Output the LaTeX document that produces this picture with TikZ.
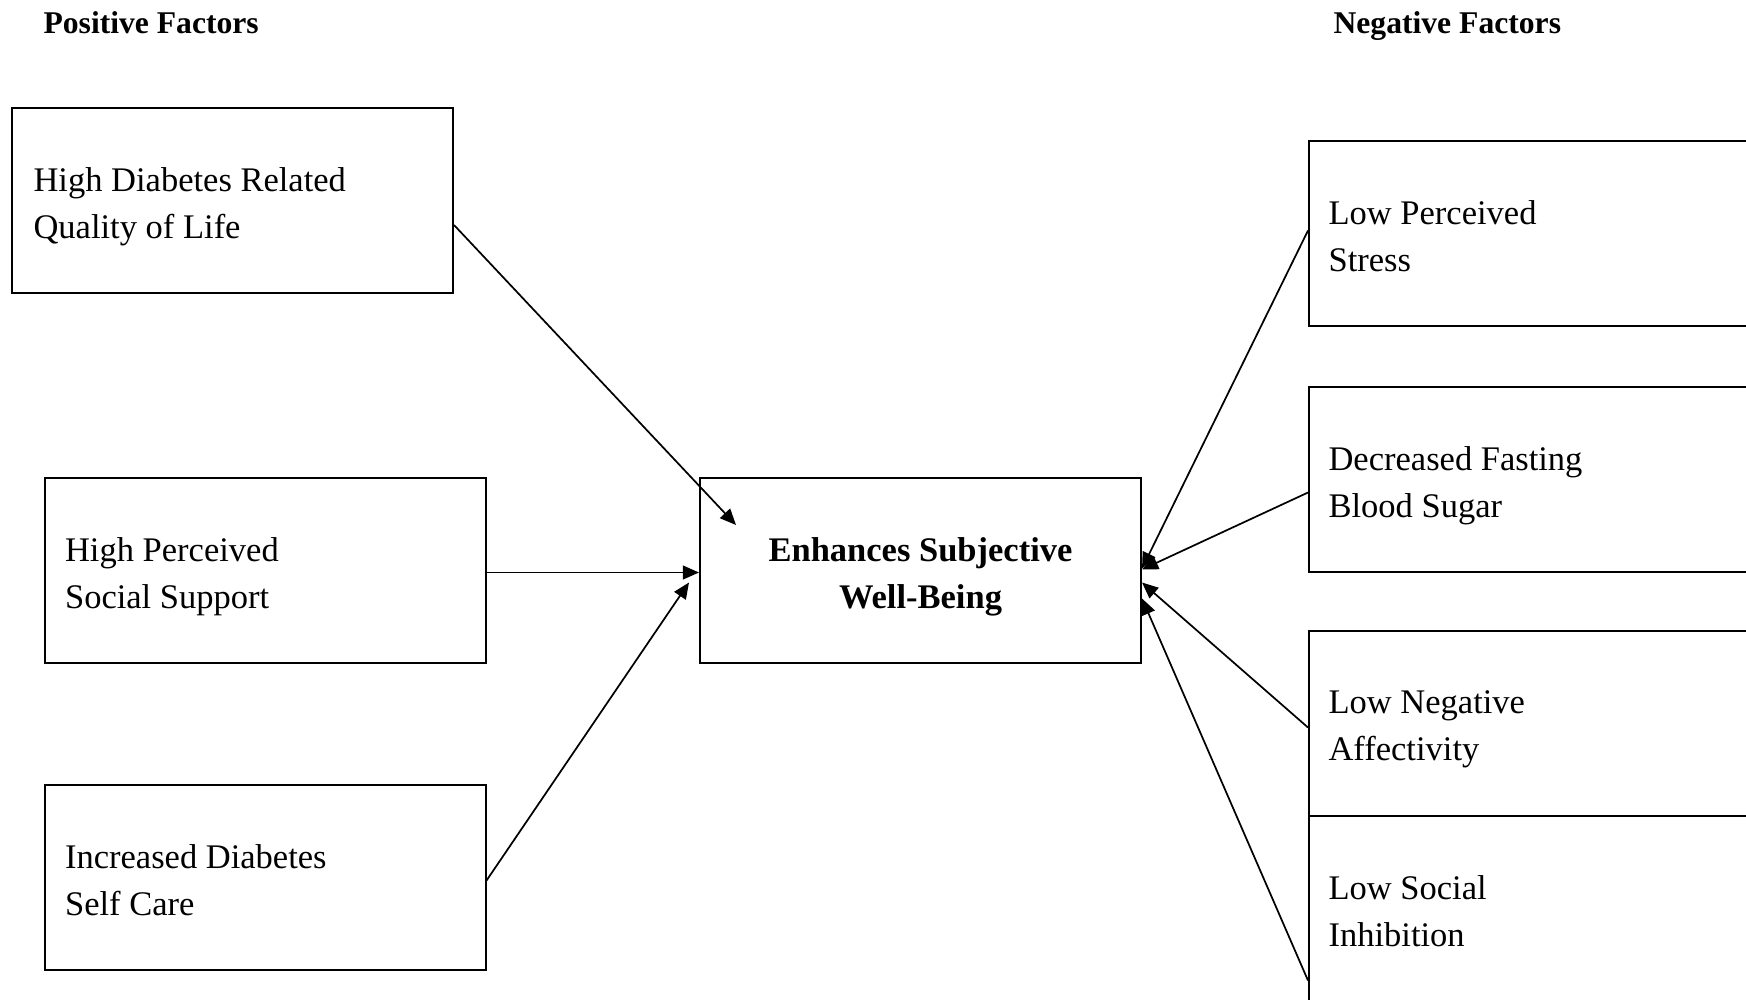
\documentclass[tikz,border=0pt]{standalone}
\usepackage{fontspec}
\setmainfont{Liberation Serif}
\usetikzlibrary{arrows.meta,calc}

% one drawing unit is 0.3478pt

% two left-aligned lines whose baseline is the first line
\newcommand\stackedlines[2]{\vtop{\hbox{#1}\hbox{#2}}}

\tikzset{
  factor/.style={draw, line width=0.7pt, minimum width=153.38pt,
    minimum height=64.34pt, inner sep=0pt, anchor=north west},
  boxtext/.style={anchor=base west, inner sep=0pt,
    font=\fontsize{12}{16.5}\selectfont},
  centertext/.style={anchor=base, inner sep=0pt,
    font=\fontsize{12}{16.5}\selectfont\bfseries},
  heading/.style={anchor=base west, inner sep=0pt,
    font=\fontsize{11}{13}\selectfont\bfseries},
  conn/.style={line width=0.6pt,
    -{Triangle[length=5.6pt,width=4.8pt]}},
}

\begin{document}
\begin{tikzpicture}[x=0.3478pt, y=-0.3478pt]
\useasboundingbox (0,0) rectangle (1746,999);
\clip (0,0) rectangle (1746,999);

% column headings
\node[heading] (pos) at (43,33) {Positive Factors};
\node[heading] (neg) at (1333,33) {Negative Factors};

% boxes
\node[factor] (b1) at (11,107) {};
\node[factor] (b2) at (43.5,477) {};
\node[factor] (b3) at (43.5,784) {};
\node[factor] (wb) at (699,477) {};
\node[factor] (r1) at (1308,140) {};
\node[factor] (r2) at (1308,386) {};
\node[factor] (r3) at (1308,629.5) {};
\node[factor] (r4) at (1308,815) {};

% box texts
\node[boxtext] (t1) at ($(b1.north west)+(22,84)$) {\stackedlines{High Diabetes Related}{Quality of Life}};
\node[boxtext] (t2) at ($(b2.north west)+(21,84)$) {\stackedlines{High Perceived}{Social Support}};
\node[boxtext] (t3) at ($(b3.north west)+(21,84)$) {\stackedlines{Increased Diabetes}{Self Care}};
\node[boxtext] (s1) at ($(r1.north west)+(20,84)$) {\stackedlines{Low Perceived}{Stress}};
\node[boxtext] (s2) at ($(r2.north west)+(20,84)$) {\stackedlines{Decreased Fasting}{Blood Sugar}};
\node[boxtext] (s3) at ($(r3.north west)+(20,84)$) {\stackedlines{Low Negative}{Affectivity}};
\node[boxtext] (s4) at ($(r4.north west)+(20,84)$) {\stackedlines{Low Social}{Inhibition}};
\node[centertext] (twb) at ($(wb.north)+(0,84)$)
  {\vtop{\halign{\hfil#\hfil\cr Enhances Subjective\cr Well-Being\cr}}};

% connectors
\draw[conn] ($(b1.east)+(0,24.5)$) -- ($(wb.north west)+(37,48)$);
\draw[conn] ($(b2.east)+(0,2)$) -- ($(wb.west)+(0,2)$);
\draw[conn] ($(b3.east)+(0,3)$) -- ($(wb.west)+(-10,12)$);
\draw[conn] ($(r1.west)+(0,-3)$) -- ($(wb.east)+(0,-2)$);
\draw[conn] ($(r2.west)+(0,13)$) -- ($(wb.east)+(0,-1)$);
\draw[conn] ($(r3.west)+(0,4.5)$) -- ($(wb.east)+(0,12)$);
\draw[conn] ($(r4.west)+(0,72)$) -- ($(wb.east)+(0,28)$);
\end{tikzpicture}
\end{document}
